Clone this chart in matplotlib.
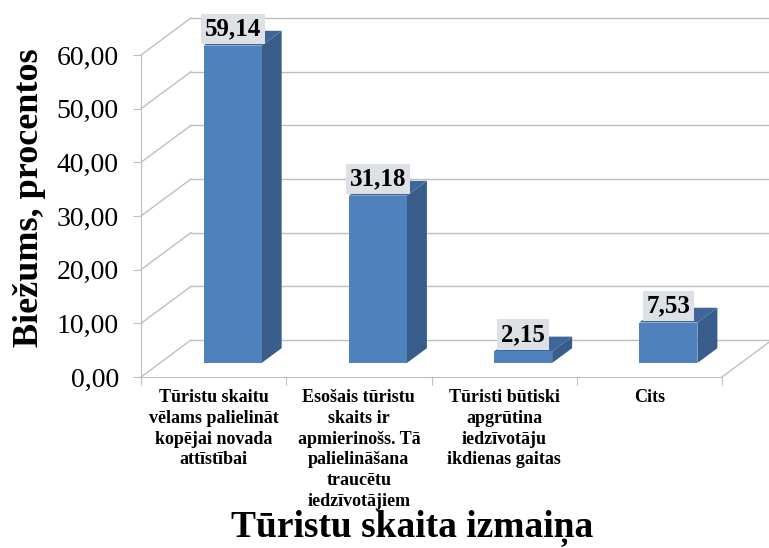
import numpy as np
import matplotlib
matplotlib.use('Agg')
import matplotlib.pyplot as plt
from matplotlib.patches import Polygon

plt.rcParams['font.family'] = ['Liberation Serif', 'DejaVu Serif']

# data
kategorijas = ["Tūristu skaitu\nvēlams palielināt\nkopējai novada\nattīstībai",
               "Esošais tūristu\nskaits ir\napmierinošs. Tā\npalielināšana\ntraucētu\niedzīvotājiem",
               "Tūristi būtiski\napgrūtina\niedzīvotāju\nikdienas gaitas",
               "Cits"]
vertibas = [59.14, 31.18, 2.15, 7.53]
y_ticks = [0, 10, 20, 30, 40, 50, 60]

# pseudo 3d look (excel style)
DX = 0.344   # x shift for full depth (category units)
DY = 6.89    # y shift for full depth (value units)
z0, z1 = 0.38, 0.78
bw = 0.4

c_front = '#4F81BD'
c_side = '#385D8A'
c_top = '#3F6698'
c_grid = '#BFBFBF'

def p(x, y, z):
    return (x + z*DX, y + z*DY)

fig = plt.figure(figsize=(7.69, 5.48), dpi=100)
ax = fig.add_axes([141/769, (548-377)/548, 581/769, (377-55)/548])
ax.set_xlim(0, 4)
ax.set_ylim(0, 60)
n = len(kategorijas)

# walls / gridlines
for v in y_ticks:
    a, b = p(0, v, 1), p(n, v, 1)
    ax.plot([a[0], b[0]+0.2], [a[1], b[1]], color=c_grid, lw=1, clip_on=False, zorder=1)
    a0 = p(0, v, 0)
    ax.plot([a0[0], a[0]], [a0[1], a[1]], color=c_grid, lw=1, clip_on=False, zorder=1)
a, b = p(n, 0, 0), p(n, 0, 1)
ax.plot([a[0], b[0]], [a[1], b[1]], color=c_grid, lw=1, clip_on=False, zorder=1)

# bars
for i, v in enumerate(vertibas):
    x0, x1 = i + 0.5 - bw/2, i + 0.5 + bw/2
    front = [p(x0, 0, z0), p(x1, 0, z0), p(x1, v, z0), p(x0, v, z0)]
    side = [p(x1, 0, z0), p(x1, 0, z1), p(x1, v, z1), p(x1, v, z0)]
    top = [p(x0, v, z0), p(x1, v, z0), p(x1, v, z1), p(x0, v, z1)]
    ax.add_patch(Polygon(side, closed=True, fc=c_side, ec='none', clip_on=False, zorder=3))
    ax.add_patch(Polygon(top, closed=True, fc=c_top, ec='none', clip_on=False, zorder=3))
    ax.add_patch(Polygon(front, closed=True, fc=c_front, ec='none', clip_on=False, zorder=3))
    lx, ly = p(i + 0.5, v, z0)
    ax.annotate(f"{v:.2f}".replace('.', ','), (lx, ly), xytext=(0, 12), textcoords='offset points',
                ha='center', va='center', fontsize=18, fontweight='bold', zorder=5,
                annotation_clip=False,
                bbox=dict(boxstyle='square,pad=0.15', fc='#DDE1E6', ec='none'))

# axes
for s in ['top', 'right']:
    ax.spines[s].set_visible(False)
for s in ['left', 'bottom']:
    ax.spines[s].set_color(c_grid)
    ax.spines[s].set_zorder(2)
ax.set_yticks(y_ticks)
ax.set_yticklabels([f"{t:.2f}".replace('.', ',') for t in y_ticks], fontsize=20)
ax.tick_params(axis='y', direction='out', length=6, color=c_grid, pad=10)
ax.set_xticks(range(n + 1))
ax.set_xticklabels([])
ax.set_xticks(np.arange(n) + 0.5, minor=True)
ax.set_xticklabels(kategorijas, minor=True, fontsize=13, fontweight='bold')
ax.tick_params(axis='x', which='major', direction='out', length=6, color=c_grid)
ax.tick_params(axis='x', which='minor', length=0, pad=9)
for lab in ax.get_xticklabels(minor=True):
    lab.set_linespacing(1.28)
ax.set_facecolor('none')

fig.text(30/769, 1 - 198/548, "Biežums, procentos", rotation=90, ha='center', va='center',
         fontsize=26, fontweight='bold')
fig.text(412/769, 1 - 536/548, "Tūristu skaita izmaiņa", ha='center', va='baseline',
         fontsize=27, fontweight='bold')

fig.savefig('out.png', dpi=100)
